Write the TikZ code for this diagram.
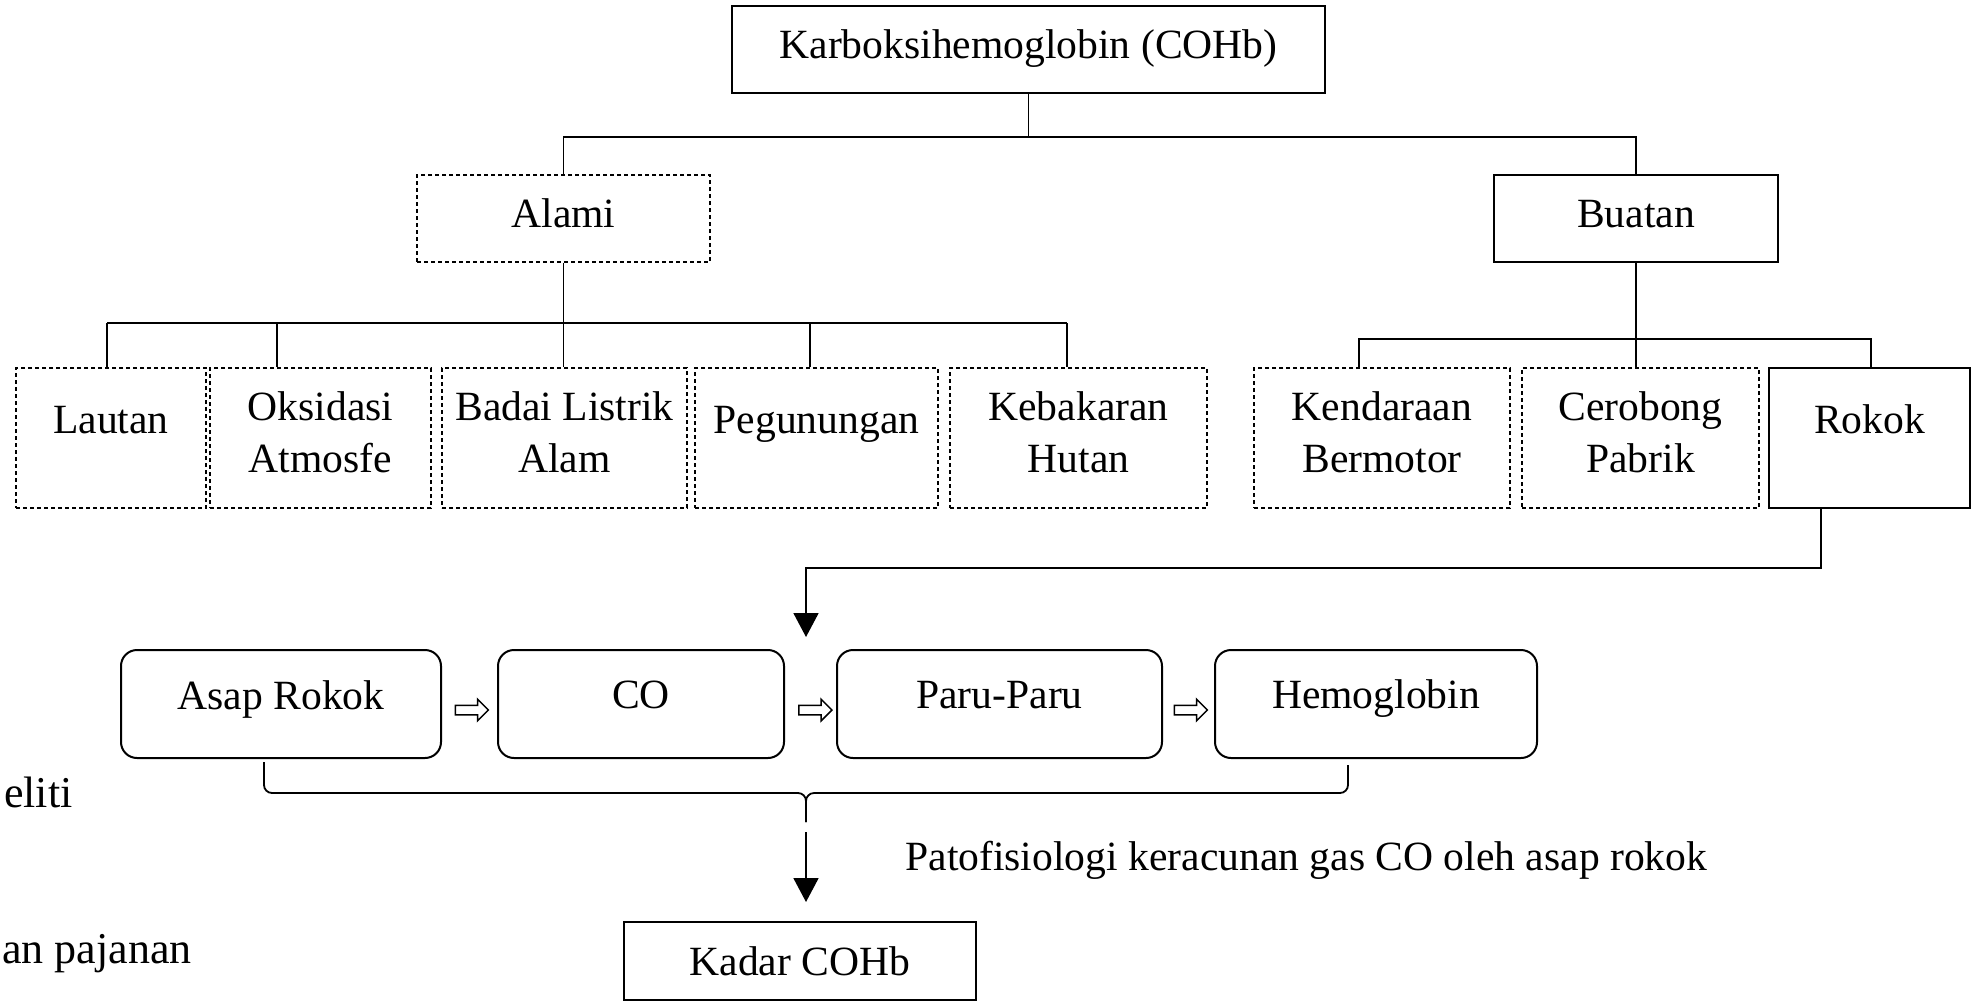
\documentclass[tikz,border=0pt]{standalone}
\usepackage{fontspec}
\setmainfont{Liberation Serif}
\usetikzlibrary{arrows.meta,shapes.arrows,calc}
\begin{document}
\begin{tikzpicture}[x=0.5pt,y=-0.5pt,
  box/.style={draw, line width=1pt, inner sep=0pt},
  dbox/.style={draw, line width=0.75pt, dash pattern=on 2.2pt off 1.3pt, inner sep=0pt},
  rbox/.style={draw, line width=1pt, rounded corners=8pt, inner sep=0pt, minimum height=54pt},
  lowbox/.style={minimum height=70pt},
  tx/.style={font=\fontsize{20.8pt}{25pt}\selectfont, anchor=base, inner sep=0pt},
  ln/.style={line width=0.9pt},
  arr/.style={line width=0.9pt, -{Triangle[width=12.5pt,length=12pt]}},
  hol/.style={single arrow, draw, line width=0.75pt, inner sep=2pt, minimum height=16.5pt, single arrow head extend=3pt},
]
\useasboundingbox (0,0) rectangle (1975,1002);

% top level
\node[box, minimum width=296.5pt, minimum height=43.5pt] (top) at (1028.5,49.5) {};
\node[tx] (top-t) at (top.center |- 0,58) {Karboksihemoglobin (COHb)};

\node[dbox, minimum width=146.5pt, minimum height=43.5pt] (alami) at (563.5,218.5) {};
\node[tx] (alami-t) at (alami.center |- 0,227) {Alami};
\node[box, minimum width=142pt, minimum height=43.5pt] (buatan) at (1636,218.5) {};
\node[tx] (buatan-t) at (buatan.center |- 0,227) {Buatan};

% bottom row
\node[dbox, lowbox, minimum width=95pt]    (lautan) at (111,438) {};
\node[dbox, lowbox, minimum width=110.5pt] (oks)    at (320.5,438) {};
\node[dbox, lowbox, minimum width=122.5pt] (badai)  at (564.5,438) {};
\node[dbox, lowbox, minimum width=121.5pt] (peg)    at (816.5,438) {};
\node[dbox, lowbox, minimum width=128.5pt] (keb)    at (1078.5,438) {};
\node[dbox, lowbox, minimum width=128pt]   (kend)   at (1382,438) {};
\node[dbox, lowbox, minimum width=118.5pt] (cer)    at (1640.5,438) {};
\node[box,  lowbox, minimum width=100.5pt] (rokok)  at (1869.5,438) {};

\node[tx] (lautan-t) at (lautan.center |- 0,433) {Lautan};
\node[tx] (oks-a) at (oks.center |- 0,420) {Oksidasi};
\node[tx] (oks-b) at (oks.center |- 0,472) {Atmosfe};
\node[tx] (badai-a) at (badai.center |- 0,420) {Badai Listrik};
\node[tx] (badai-b) at (badai.center |- 0,472) {Alam};
\node[tx] (peg-t) at (peg.center |- 0,433) {Pegunungan};
\node[tx] (keb-a) at (keb.center |- 0,420) {Kebakaran};
\node[tx] (keb-b) at (keb.center |- 0,472) {Hutan};
\node[tx] (kend-a) at (kend.center |- 0,420) {Kendaraan};
\node[tx] (kend-b) at (kend.center |- 0,472) {Bermotor};
\node[tx] (cer-a) at (cer.center |- 0,420) {Cerobong};
\node[tx] (cer-b) at (cer.center |- 0,472) {Pabrik};
\node[tx] (rokok-t) at (rokok.center |- 0,433) {Rokok};

% middle row
\node[rbox, minimum width=160pt]   (asap) at (281,704) {};
\node[rbox, minimum width=143pt]   (co)   at (641,704) {};
\node[rbox, minimum width=162.5pt] (paru) at (999.5,704) {};
\node[rbox, minimum width=161pt]   (hemo) at (1376,704) {};
\node[tx] (asap-t) at (asap.center |- 0,709) {Asap Rokok};
\node[tx] (co-t)   at (co.center |- 0,708) {CO};
\node[tx] (paru-t) at (paru.center |- 0,708) {Paru-Paru};
\node[tx] (hemo-t) at (hemo.center |- 0,708) {Hemoglobin};

\node[hol] (h1) at ($(asap.east)!0.5!(co.west)+(0,6)$) {};
\node[hol] (h2) at ($(co.east)!0.55!(paru.west)+(0,6)$) {};
\node[hol] (h3) at ($(paru.east)!0.5!(hemo.west)+(0,6)$) {};

% result
\node[box, minimum width=176pt, minimum height=39pt] (kadar) at (800,961) {};
\node[tx] (kadar-t) at (kadar.center |- 0,975) {Kadar COHb};
\node[tx, anchor=base west] (pato) at (905,870) {Patofisiologi keracunan gas CO oleh asap rokok};

% page text at the left edge (as in the reference)
\node[tx, anchor=base east, font=\fontsize{22pt}{27pt}\selectfont] (left-a) at (73,807) {eliti};
\node[tx, anchor=base east, font=\fontsize{22pt}{27pt}\selectfont] (left-b) at (192,963) {an pajanan};

% connectors: top level
\coordinate (j1) at (top.south |- 0,137);
\draw[ln] (top.south) -- (j1);
\draw[ln] (alami.north) |- (j1) -| (buatan.north);

% Alami branches
\coordinate (ha) at (107,323);
\coordinate (ho) at (277,323);
\coordinate (hp) at (810,323);
\coordinate (hb) at (1067,323);
\draw[ln] (alami.south) -- (alami.south |- badai.north);
\draw[ln] (ha) -- (hb);
\draw[ln] (ha) -- (ha |- lautan.north);
\draw[ln] (ho) -- (ho |- oks.north);
\draw[ln] (hp) -- (hp |- peg.north);
\draw[ln] (hb) -- (hb |- keb.north);

% Buatan branches
\coordinate (bl) at (1359,339);
\coordinate (br) at (1871,339);
\draw[ln] (buatan.south) -- (buatan.south |- cer.north);
\draw[ln] (bl |- kend.north) -- (bl) -- (br) -- (br |- rokok.north);

% Rokok to smoke chain
\coordinate (rk) at ($(rokok.south)+(-48.5,0)$);
\coordinate (turn) at (806,568);
\coordinate (in1) at (806,637);
\draw[arr] (rk) |- (turn) -- (in1);

% brace
\coordinate (bL) at (264,762);
\coordinate (bR) at (1348,765);
\coordinate (bM) at (806,793);
\coordinate (bS) at (806,822);
\draw[ln, rounded corners=4pt] (bL) -- (bL |- bM) -- (bM) -- (bS);
\draw[ln, rounded corners=4pt] (bR) -- (bR |- bM) -- (bM) -- (bS);

% final arrow
\coordinate (a2s) at (806,832);
\coordinate (a2e) at (806,902);
\draw[arr] (a2s) -- (a2e);
\end{tikzpicture}
\end{document}
